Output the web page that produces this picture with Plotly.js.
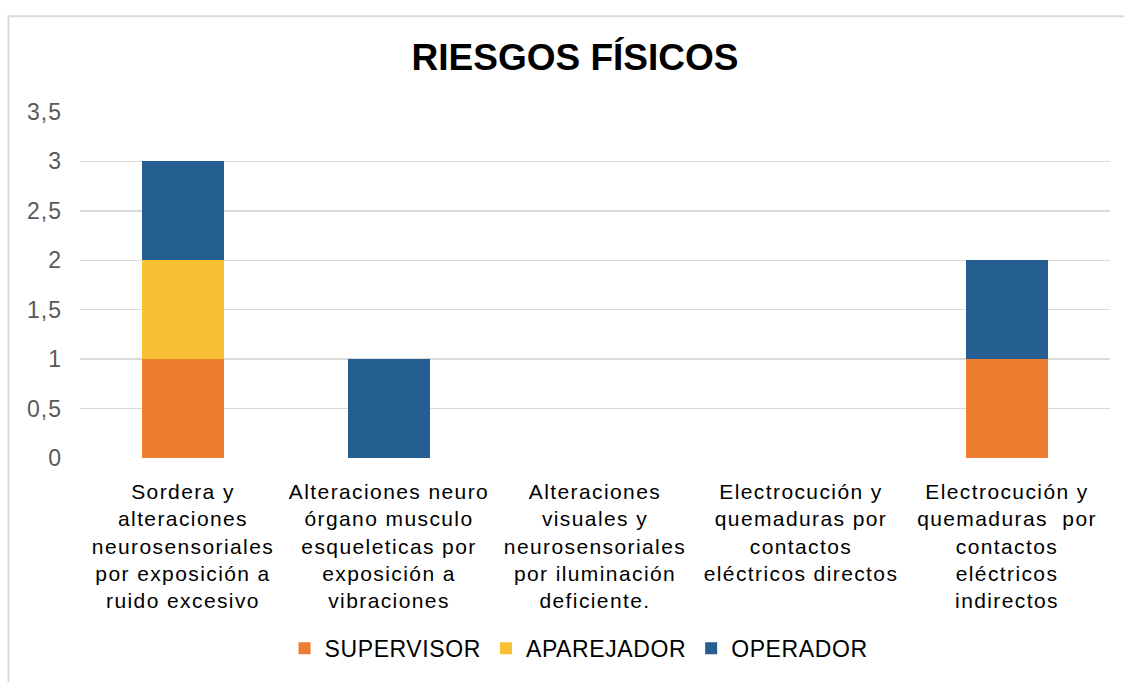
<!DOCTYPE html>
<html>
<head>
<meta charset="utf-8">
<script src="https://cdn.plot.ly/plotly-3.0.1.min.js"></script>
<style>
html,body{margin:0;padding:0;background:#fff;}
#chart{width:1124px;height:682px;}
.xtick text{letter-spacing:1.4px;}
.ytick text{letter-spacing:1px;}
.legendtext{letter-spacing:0.6px;}
</style>
</head>
<body>
<div id="chart"></div>
<script>
const categories = [
  "Sordera y<br>alteraciones<br>neurosensoriales<br>por exposición a<br>ruido excesivo",
  "Alteraciones neuro<br>órgano musculo<br>esqueleticas por<br>exposición a<br>vibraciones",
  "Alteraciones<br>visuales y<br>neurosensoriales<br>por iluminación<br>deficiente.",
  "Electrocución y<br>quemaduras por<br>contactos<br>eléctricos directos",
  "Electrocución y<br>quemaduras  por<br>contactos<br>eléctricos<br>indirectos"
];
const supervisor = [1, 0, 0, 0, 1];
const aparejador = [1, 0, 0, 0, 0];
const operador   = [1, 1, 0, 0, 1];
const seriesNames = ["SUPERVISOR", "APAREJADOR", "OPERADOR"];
const seriesColors = ["#ED7D31", "#F7C133", "#255E91"];
const yTicks = [0, 0.5, 1, 1.5, 2, 2.5, 3, 3.5];
const titleText = "RIESGOS FÍSICOS";

const FONT = "'Liberation Sans', Arial, sans-serif";
const seriesValues = [supervisor, aparejador, operador];
const data = seriesValues.map((vals, i) => ({
  type: "bar",
  name: seriesNames[i],
  x: categories,
  y: vals,
  marker: {color: seriesColors[i], line: {width: 0}},
  hoverinfo: "skip"
}));

const layout = {
  width: 1124,
  height: 682,
  paper_bgcolor: "#ffffff",
  plot_bgcolor: "#ffffff",
  separators: ",.",
  barmode: "stack",
  bargap: 0.6,
  margin: {l: 80, r: 14, t: 112, b: 221, pad: 0},
  title: {
    text: "<b>" + titleText + "</b>",
    font: {family: FONT, size: 37, color: "#000000"},
    xref: "container", yref: "container",
    x: 0.5116, y: 0.9164, xanchor: "center", yanchor: "middle"
  },
  xaxis: {
    type: "category",
    tickangle: 0,
    showgrid: false,
    showline: false,
    zeroline: false,
    ticks: "",
    ticklabelstandoff: 19,
    tickfont: {family: FONT, size: 21, color: "#000000"},
    fixedrange: true,
    automargin: false
  },
  yaxis: {
    range: [0, 3.5],
    tickvals: yTicks,
    showgrid: true,
    gridcolor: "#d9d9d9",
    gridwidth: 1.5,
    zeroline: false,
    showline: false,
    ticks: "",
    ticklabelstandoff: 17,
    tickfont: {family: FONT, size: 23, color: "#595959"},
    fixedrange: true,
    automargin: false
  },
  showlegend: true,
  legend: {
    orientation: "h",
    traceorder: "normal",
    x: 0.4845, xanchor: "center",
    y: -0.55, yanchor: "middle",
    font: {family: FONT, size: 23, color: "#000000"},
    itemwidth: 30,
    bgcolor: "rgba(0,0,0,0)"
  },
  shapes: [{
    type: "rect",
    xref: "paper", yref: "paper",
    x0: -0.0694, x1: 1.2, y0: -1.5, y1: 1.2765,
    line: {color: "#d9d9d9", width: 2},
    fillcolor: "rgba(0,0,0,0)",
    layer: "below"
  }]
};

Plotly.newPlot("chart", data, layout, {staticPlot: true, displayModeBar: false});
</script>
</body>
</html>
